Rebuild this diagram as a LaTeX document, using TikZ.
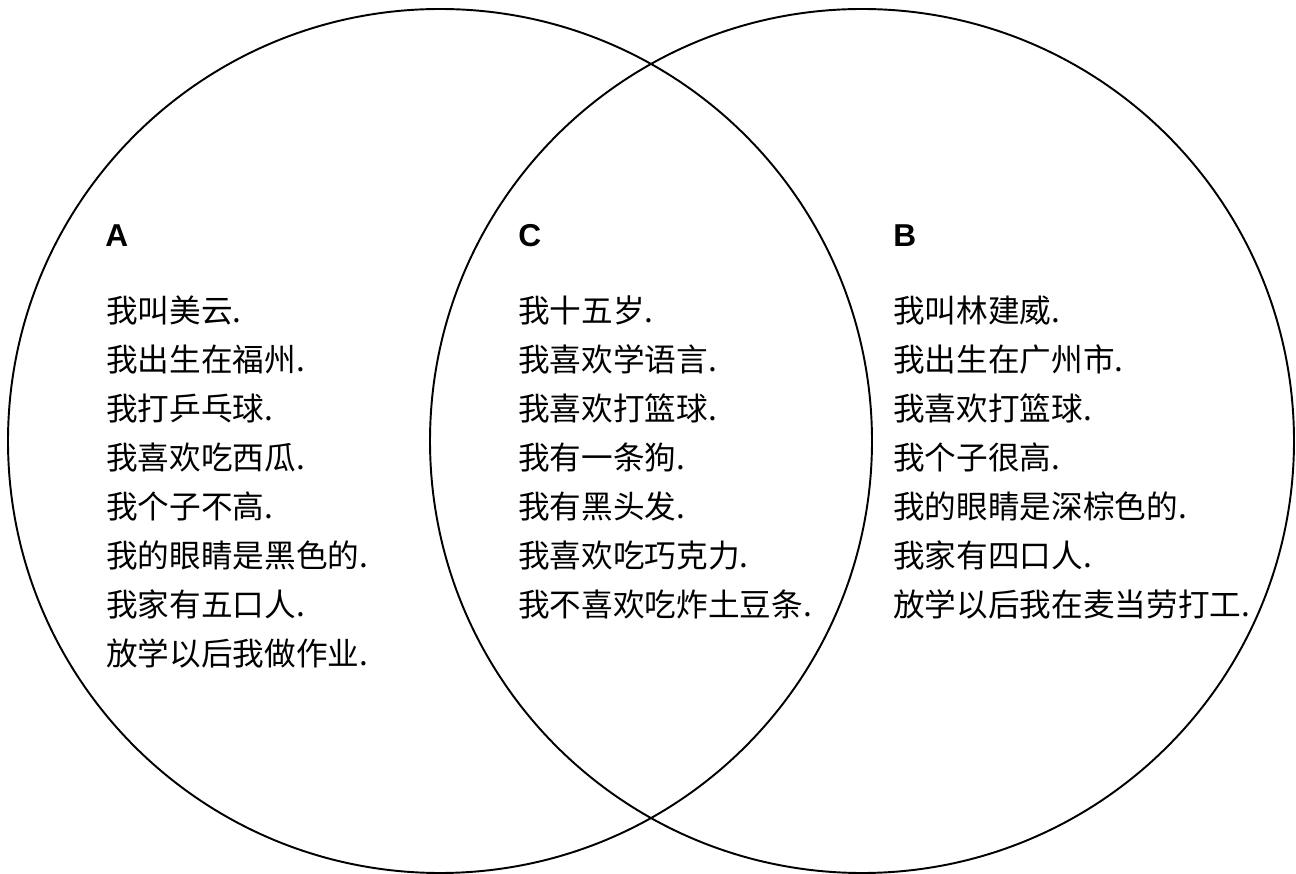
\documentclass[tikz,border=0pt]{standalone}
\usepackage{fontspec}
\setmainfont{Liberation Serif}
\setsansfont{Liberation Sans}
\newfontfamily\zhfont{Noto Sans CJK SC}
\usepackage{tikz}

\begin{document}
\begin{tikzpicture}[snode/.style={draw,circle,line width=1.1pt,minimum size=17.28cm,inner sep=0pt,outer sep=0pt}, tnode/.style={anchor=base west,inner sep=0pt,font=\zhfont\fontsize{18pt}{20pt}\selectfont}, hnode/.style={anchor=base west,inner sep=0pt,font=\sffamily\bfseries\fontsize{18pt}{20pt}\selectfont}]
    \useasboundingbox (0,0) rectangle (25.92,17.46);
    \node[snode] (sa) at (8.8,8.64) {};
    \node[snode] (sb) at (17.24,8.64) {};

    \node[hnode] (ha) at (2.10,12.52) {A};
    \node[hnode] (hc) at (10.36,12.52) {C};
    \node[hnode] (hb) at (17.86,12.52) {B};

    \node[tnode] (a1) at (2.12,11.00) {我叫美云.};
    \node[tnode] (a2) at (2.12,10.02) {我出生在福州.};
    \node[tnode] (a3) at (2.12,9.04) {我打乒乓球.};
    \node[tnode] (a4) at (2.12,8.06) {我喜欢吃西瓜.};
    \node[tnode] (a5) at (2.12,7.08) {我个子不高.};
    \node[tnode] (a6) at (2.12,6.10) {我的眼睛是黑色的.};
    \node[tnode] (a7) at (2.12,5.12) {我家有五口人.};
    \node[tnode] (a8) at (2.12,4.14) {放学以后我做作业.};

    \node[tnode] (c1) at (10.36,11.00) {我十五岁.};
    \node[tnode] (c2) at (10.36,10.02) {我喜欢学语言.};
    \node[tnode] (c3) at (10.36,9.04) {我喜欢打篮球.};
    \node[tnode] (c4) at (10.36,8.06) {我有一条狗.};
    \node[tnode] (c5) at (10.36,7.08) {我有黑头发.};
    \node[tnode] (c6) at (10.36,6.10) {我喜欢吃巧克力.};
    \node[tnode] (c7) at (10.36,5.12) {我不喜欢吃炸土豆条.};

    \node[tnode] (b1) at (17.86,11.00) {我叫林建威.};
    \node[tnode] (b2) at (17.86,10.02) {我出生在广州市.};
    \node[tnode] (b3) at (17.86,9.04) {我喜欢打篮球.};
    \node[tnode] (b4) at (17.86,8.06) {我个子很高.};
    \node[tnode] (b5) at (17.86,7.08) {我的眼睛是深棕色的.};
    \node[tnode] (b6) at (17.86,6.10) {我家有四口人.};
    \node[tnode] (b7) at (17.86,5.12) {放学以后我在麦当劳打工.};
\end{tikzpicture}
\end{document}
